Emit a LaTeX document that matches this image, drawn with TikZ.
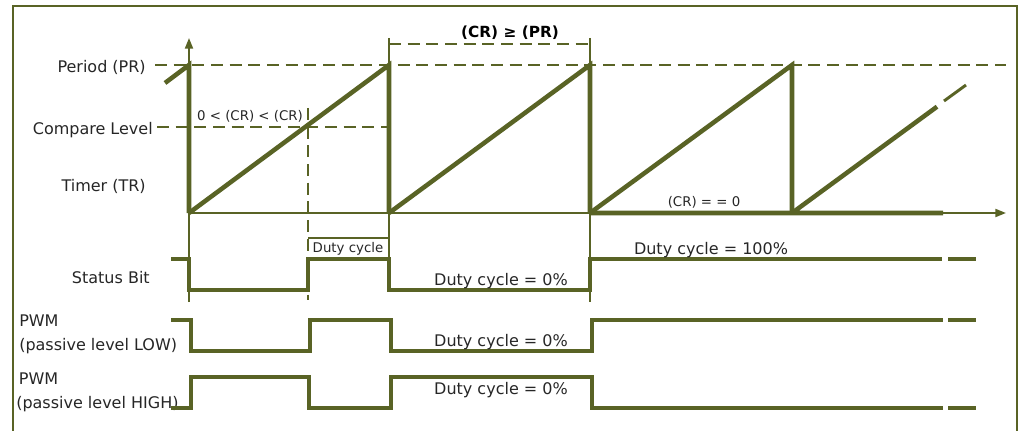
\documentclass[tikz,border=0pt]{standalone}
\usepackage{fontspec}
\setmainfont{DejaVu Sans}
\usetikzlibrary{arrows.meta}
\definecolor{olive}{RGB}{89,99,37}
\begin{document}
\begin{tikzpicture}[x=0.75pt,y=-0.75pt,line join=miter,
    ramp/.style={draw=olive,line width=3.4pt},
    sig/.style={draw=olive,line width=2.5pt},
    thinln/.style={draw=olive,line width=1.2pt},
    guide/.style={draw=olive,line width=1.5pt,dash pattern=on 9pt off 5pt},
    lbl/.style={font=\fontsize{12}{18}\selectfont,inner sep=0pt,text=black!85},
    small/.style={font=\fontsize{10}{12}\selectfont,inner sep=0pt,text=black!85}]
 \useasboundingbox (0,0) rectangle (1019,431);
 \draw[thinln] (13,431) |- (1017,6) -- (1017,431);
 % labels
 \node[lbl,anchor=east] (per) at (146,67) {Period (PR)};
 \node[lbl,anchor=east] (cmp) at (153,130) {Compare Level};
 \node[lbl,anchor=east] (tmr) at (146,186) {Timer (TR)};
 \node[lbl,anchor=east] (stat) at (150,278) {Status Bit};
 \node[lbl,anchor=west,align=left] (pwml) at (19,334) {PWM\\(passive level LOW)};
 \node[lbl,anchor=west,align=left] (pwmh) at (16,392) {\,PWM\\(passive level HIGH)};
 % axes and guides
 \draw[thinln,line width=1.5pt,-{Triangle[length=8pt,width=6pt]}] (189,302) -- (189,38);
 \draw[thinln,line width=1.5pt,-{Triangle[length=8pt,width=6pt]}] (189,213) -- (1006,213);
 \draw[guide] (155,65) -- (1006,65);
 \draw[guide] (157,127) -- (389,127);
 \draw[guide] (308,108) -- (308,300);
 \draw[thinln] (389,38) -- (389,65) (590,38) -- (590,65);
 \draw[guide] (389,44) -- (590,44);
 \node[font=\bfseries\fontsize{11.5}{13}\selectfont,inner sep=0pt] (crpr) at (510,33) {(CR) ≥ (PR)};
 \node[small] (cmpv) at (250,116) {0 < (CR) < (CR)};
 % timer ramps
 \draw[ramp] (165,83) -- (189,65) -- (189,213);
 \foreach \a/\b in {189/389,389/590,590/792}
  \draw[ramp] (\a,213) -- (\b,65) -- (\b,213);
 \draw[ramp] (590,213) -- (943,213) (792,213) -- (937,106.7);
 \draw[olive,line width=2.2pt] (944,101) -- (966,85);
 \node[small] (crz) at (704,202) {(CR) = = 0};
 % status bit
 \draw[thinln] (389,213) -- (389,259) (590,213) -- (590,302) (308,238) -- (389,238);
 \node[small] (duty) at (348,249) {Duty cycle};
 \draw[sig] (171,259) -- (189,259) -- (189,290) -- (308,290) -- (308,259) -- (389,259)
  -- (389,290) -- (590,290) -- (590,259) -- (942,259);
 \node[lbl] (st0) at (501,281) {Duty cycle = 0\%};
 \node[lbl] (st100) at (711,250) {Duty cycle = 100\%};
 % pwm outputs
 \draw[sig] (171,320) -- (191,320) -- (191,351) -- (310,351) -- (310,320) -- (391,320)
  -- (391,351) -- (592,351) -- (592,320) -- (943,320);
 \draw[sig] (171,408) -- (191,408) -- (191,377) -- (309,377) -- (309,408) -- (391,408)
  -- (391,377) -- (592,377) -- (592,408) -- (943,408);
 \node[lbl] (lo0) at (501,342) {Duty cycle = 0\%};
 \node[lbl] (hi0) at (501,390) {Duty cycle = 0\%};
 \foreach \y in {259,320,408}
  \draw[olive,line width=3pt] (948,\y) -- (976,\y);
\end{tikzpicture}
\end{document}
